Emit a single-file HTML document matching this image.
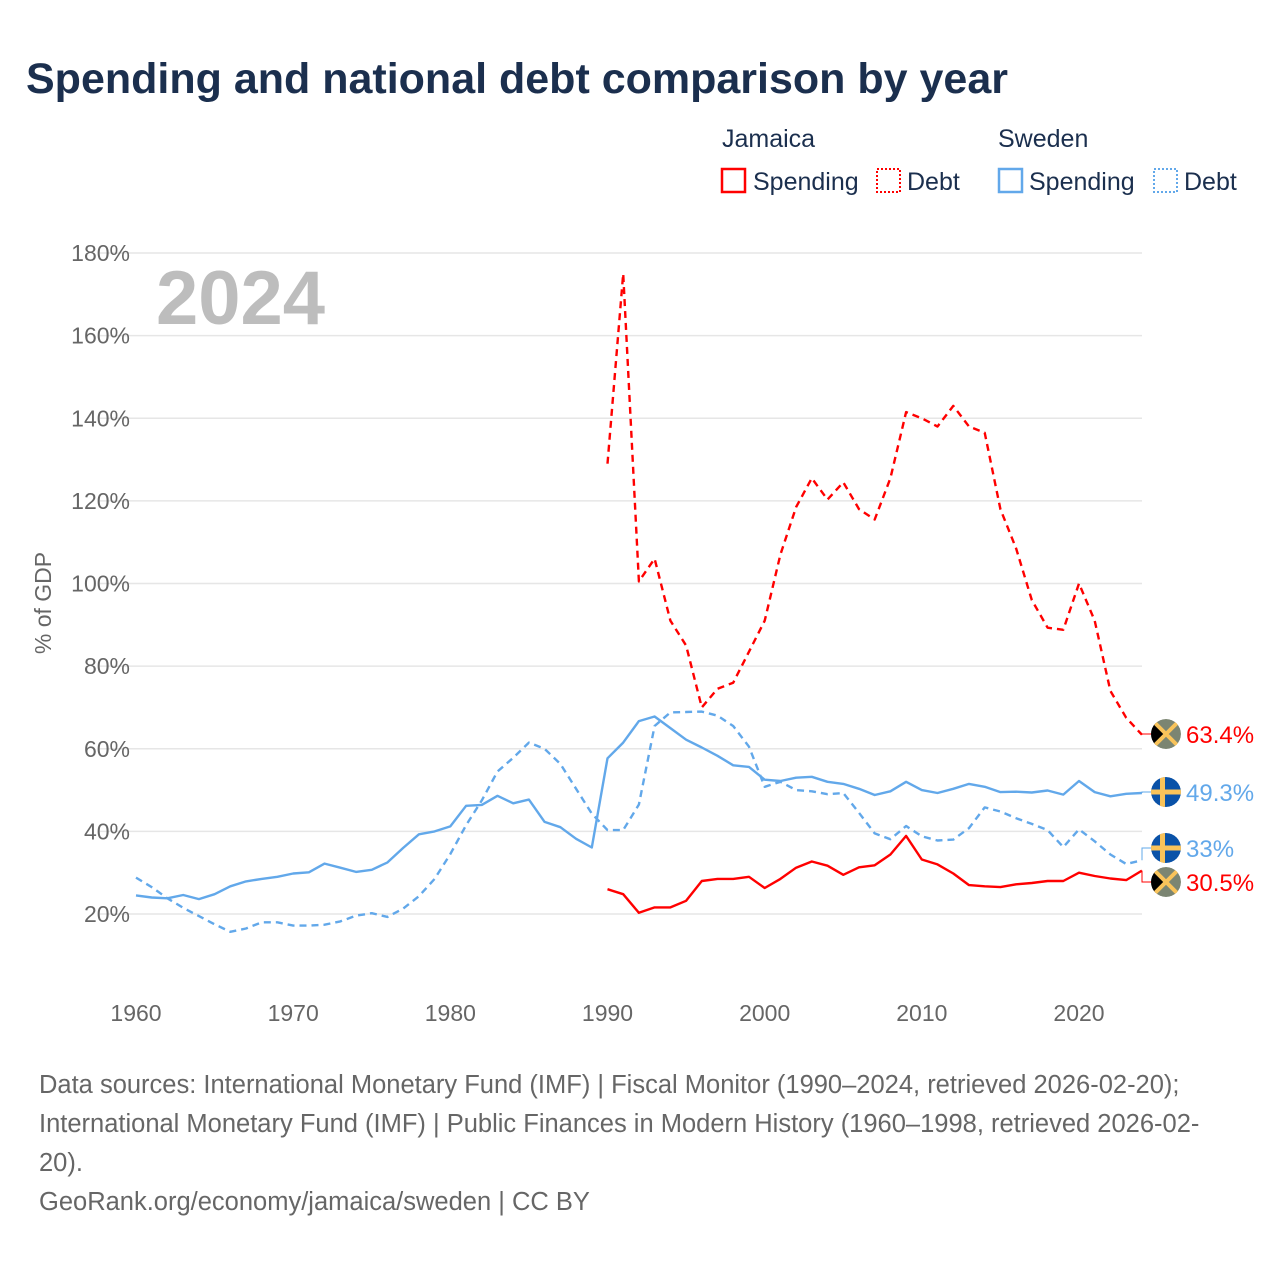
<!DOCTYPE html>
<html><head><meta charset="utf-8"><style>
body{margin:0;background:#fff;font-family:"Liberation Sans",sans-serif;}
#wrap{position:relative;width:1280px;height:1280px;overflow:hidden;}
</style></head><body>
<div id="wrap">
<svg id="svg" width="1280" height="1280" xmlns="http://www.w3.org/2000/svg">
<defs><clipPath id="fc"><circle cx="0" cy="0" r="15"/></clipPath></defs>
<text x="26" y="93" font-size="43" font-weight="bold" fill="#1b2f4e">Spending and national debt comparison by year</text>
<g font-size="25" fill="#1b2f4e">
<text x="722" y="147">Jamaica</text>
<text x="998" y="147">Sweden</text>
<rect x="722" y="169" width="23" height="23" fill="none" stroke="#f00" stroke-width="2.5"/>
<text x="753" y="190">Spending</text>
<rect x="877" y="169" width="23" height="23" fill="none" stroke="#f00" stroke-width="2" stroke-dasharray="2,2"/>
<text x="907" y="190">Debt</text>
<rect x="999" y="169" width="23" height="23" fill="none" stroke="#62a8ea" stroke-width="2.5"/>
<text x="1029" y="190">Spending</text>
<rect x="1154" y="169" width="23" height="23" fill="none" stroke="#62a8ea" stroke-width="2" stroke-dasharray="2,2"/>
<text x="1184" y="190">Debt</text>
</g>
<text x="156" y="324" font-size="76" font-weight="bold" fill="#bdbdbd">2024</text>
<text transform="translate(51,603) rotate(-90)" text-anchor="middle" font-size="23" fill="#666">% of GDP</text>
<g id="grid"></g><g id="series"></g><g id="ends"></g>
<g font-size="25.5" fill="#666">
<text x="39" y="1093">Data sources: International Monetary Fund (IMF) | Fiscal Monitor (1990–2024, retrieved 2026-02-20);</text>
<text x="39" y="1132">International Monetary Fund (IMF) | Public Finances in Modern History (1960–1998, retrieved 2026-02-</text>
<text x="39" y="1171">20).</text>
<text x="39" y="1210">GeoRank.org/economy/jamaica/sweden | CC BY</text>
</g>
</svg></div>
<script>
const yTicks=[20,40,60,80,100,120,140,160,180];
const xTicks=[1960,1970,1980,1990,2000,2010,2020];
const swedenYears=[];for(let y=1960;y<=2024;y++)swedenYears.push(y);
const jamaicaYears=[];for(let y=1990;y<=2024;y++)jamaicaYears.push(y);
const swedenSpending=[24.5,24,23.8,24.6,23.6,24.8,26.7,27.9,28.5,29,29.8,30.1,32.2,31.2,30.2,30.7,32.5,36,39.3,40,41.2,46.2,46.4,48.6,46.8,47.7,42.3,41,38.2,36.1,57.7,61.5,66.7,67.8,65,62.2,60.3,58.3,56,55.6,52.5,52.2,53,53.2,52,51.5,50.3,48.8,49.7,52,50,49.3,50.3,51.5,50.8,49.5,49.6,49.4,49.9,48.9,52.2,49.5,48.5,49.1,49.3];
const swedenDebt=[28.8,26.5,23.8,21.5,19.5,17.5,15.7,16.5,18,18,17.2,17.2,17.4,18.2,19.6,20.2,19.3,21.3,24.3,28.5,34.5,41.5,47.5,54.5,57.8,61.5,60,56.3,50.3,44.3,40.3,40.3,46.5,65.5,68.8,68.9,69,68,65.5,60.5,50.8,52,50,49.7,49,49.3,44.5,39.5,38.1,41.3,38.8,37.8,38,40.8,45.8,44.8,43.2,41.8,40.3,36.2,40.5,37.6,34.4,32.1,33];
const jamaicaSpending=[26,24.8,20.3,21.6,21.6,23.2,28,28.5,28.5,29,26.3,28.5,31.2,32.7,31.7,29.5,31.3,31.8,34.4,38.9,33.2,32,29.8,27,26.7,26.5,27.2,27.5,28,28,30,29.2,28.6,28.2,30.5];
const jamaicaDebt=[129,175,100.5,106,91,85,70,74.5,76,83.5,91,107,118.5,125.5,120.3,124.5,118,115.5,125.5,141.5,140,138,143,138,136.5,118,108.5,96,89.3,88.8,100,91,74,67.5,63.4];
const endLabels=["63.4%","49.3%","33%","30.5%"];

const NS="http://www.w3.org/2000/svg";
const X=y=>136+(y-1960)*(943/60);
const Y=v=>914-(v-20)*(661/160);
function mk(tag,attrs,parent){const e=document.createElementNS(NS,tag);for(const k in attrs)e.setAttribute(k,attrs[k]);parent.appendChild(e);return e;}
const grid=document.getElementById('grid'),series=document.getElementById('series'),ends=document.getElementById('ends');
yTicks.forEach(t=>{
 const l=mk('line',{x1:100,x2:1142,y1:Y(t),y2:Y(t),stroke:'#e6e6e6','stroke-width':1.5},grid);
 
 
 const tx=mk('text',{x:130,y:Y(t)+8,'text-anchor':'end','font-size':23,fill:'#666'},grid);tx.textContent=t+'%';
 
 
});
xTicks.forEach(t=>{
 const tx=mk('text',{x:X(t),y:1021,'text-anchor':'middle','font-size':23,fill:'#666'},grid);tx.textContent=t;
 
 
});
function line(years,vals,color,dash,name){
 const d=years.map((y,i)=>(i?'L':'M')+X(y).toFixed(1)+','+Y(vals[i]).toFixed(1)).join('');
 const p=mk('path',{d:d,fill:'none',stroke:color,'stroke-width':2.4,'stroke-linejoin':'round'},series);
 if(dash)p.setAttribute('stroke-dasharray','7,5');
 
 
}
line(swedenYears,swedenDebt,'#62a8ea',true,'sweden-debt-line');
line(swedenYears,swedenSpending,'#62a8ea',false,'sweden-spending-line');
line(jamaicaYears,jamaicaSpending,'#f00',false,'jamaica-spending-line');
line(jamaicaYears,jamaicaDebt,'#f00',true,'jamaica-debt-line');
const lastVals=[jamaicaDebt[jamaicaDebt.length-1],swedenSpending[swedenSpending.length-1],swedenDebt[swedenDebt.length-1],jamaicaSpending[jamaicaSpending.length-1]];
const colors=['#f00','#62a8ea','#62a8ea','#f00'];
const flags=['jm','se','se','jm'];
const markerY=[734,792,848,882];
lastVals.forEach((v,i)=>{
 const y0=Y(v),y1=markerY[i];
 mk('path',{d:`M1142,${y0}L1142,${y1}L1152,${y1}`,fill:'none',stroke:colors[i],'stroke-width':1},ends);
 const g=mk('g',{transform:`translate(1166,${y1})`,'clip-path':'url(#fc)'},ends);
 
 
 const r=15;
 if(flags[i]==='se'){
  mk('circle',{cx:0,cy:0,r:r,fill:'#0a52a8'},g);
  mk('rect',{x:-r,y:-2.5,width:2*r,height:5,fill:'#f9c35a'},g);
  mk('rect',{x:-6,y:-r,width:5,height:2*r,fill:'#f9c35a'},g);
 }else{
  mk('circle',{cx:0,cy:0,r:r,fill:'#7b8572'},g);
  mk('path',{d:`M${-r},${-r}L0,0L${-r},${r}Z`,fill:'#000'},g);
  mk('path',{d:`M-12,-12L12,12M12,-12L-12,12`,stroke:'#f9c35a','stroke-width':4},g);
 }
 const t=mk('text',{x:1186,y:y1+9,'font-size':24,fill:colors[i]},ends);t.textContent=endLabels[i];
 
 
});
</script>
</body></html>
